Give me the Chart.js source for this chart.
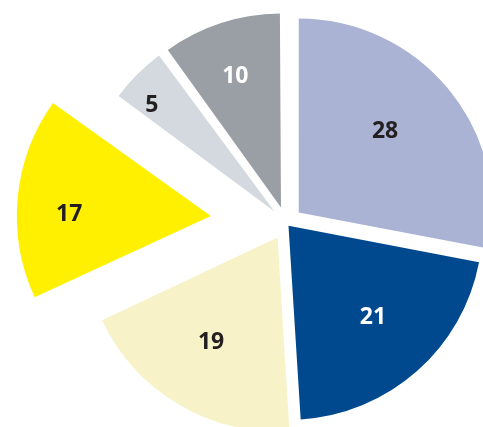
<!DOCTYPE html>
<html>
<head>
<meta charset="utf-8">
<script src="https://cdn.jsdelivr.net/npm/chart.js@4/dist/chart.umd.min.js"></script>
<style>
  html, body { margin: 0; padding: 0; background: #fff; }
  #wrap { width: 483px; height: 427px; position: relative; }
</style>
</head>
<body>
<div id="wrap"><canvas id="pie"></canvas></div>
<script>
// Pie data
const categories = ['A', 'B', 'C', 'D', 'E', 'F'];
const values = [28, 21, 19, 17, 5, 10];
const sliceColors = ['#aab3d4', '#00498f', '#f8f2c8', '#fff000', '#d3d9de', '#9a9fa5'];
const labelColors = ['#231f20', '#ffffff', '#231f20', '#231f20', '#231f20', '#ffffff'];

// how far each slice is pulled out (chart.js offset units, drawn at 1/4)
const explode = [66, 15, 67, 302, 65, 65];
// where the number sits: share of the radius, and share of the slice's sweep
const labelDist = [0.615, 0.64, 0.634, 0.73, 0.84, 0.72];
const labelSweep = [0.46, 0.48, 0.53, 0.43, 0.29, 0.47];
const RADIUS = 194;

// chart.js grows small exploded slices a bit, undo that so all slices keep one radius
const keepRadius = {
  id: 'keepRadius',
  afterDatasetUpdate(chart, args) {
    args.meta.data.forEach((arc) => {
      const off = (arc.options.offset || 0) / 4;
      const fix = 1 - Math.sin(Math.min(Math.PI, arc.circumference));
      arc.outerRadius -= off * fix;
    });
  },
};

// numbers inside the slices
const sliceNumbers = {
  id: 'sliceNumbers',
  afterDatasetsDraw(chart) {
    const { ctx } = chart;
    const meta = chart.getDatasetMeta(0);
    ctx.save();
    ctx.font = '700 23px "Open Sans"';
    ctx.textAlign = 'center';
    ctx.textBaseline = 'middle';
    meta.data.forEach((arc, i) => {
      const mid = (arc.startAngle + arc.endAngle) / 2;
      const push = (arc.options.offset || 0) / 4;
      // apex of the pulled-out slice
      const ax = arc.x + Math.cos(mid) * push;
      const ay = arc.y + Math.sin(mid) * push;
      const a = arc.startAngle + (arc.endAngle - arc.startAngle) * labelSweep[i];
      const r = labelDist[i] * RADIUS;
      ctx.fillStyle = labelColors[i];
      ctx.fillText(String(values[i]), ax + Math.cos(a) * r, ay + Math.sin(a) * r + 1);
    });
    ctx.restore();
  },
};

new Chart(document.getElementById('pie'), {
  type: 'pie',
  data: {
    labels: categories,
    datasets: [
      {
        data: values,
        backgroundColor: sliceColors,
        borderWidth: 0,
        offset: explode,
        hoverOffset: 0,
        radius: RADIUS,
        clip: false,
      },
    ],
  },
  options: {
    responsive: true,
    maintainAspectRatio: false,
    animation: false,
    events: [],
    layout: { padding: { left: 89, top: 19, right: 0, bottom: 0 } },
    plugins: {
      legend: { display: false },
      tooltip: { enabled: false },
    },
  },
  plugins: [keepRadius, sliceNumbers],
});
</script>
</body>
</html>
